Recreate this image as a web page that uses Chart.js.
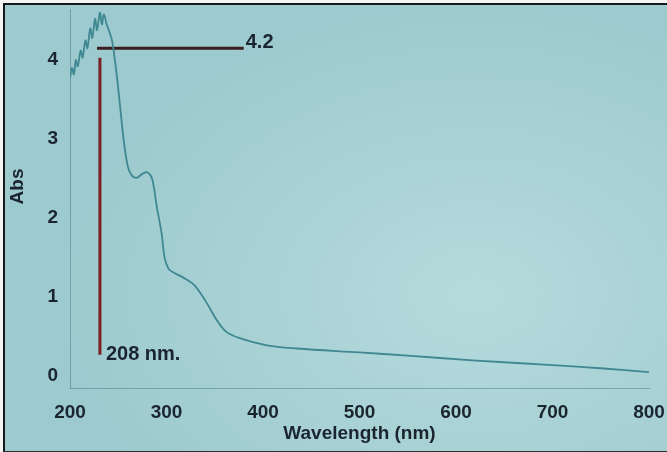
<!DOCTYPE html>
<html>
<head>
<meta charset="utf-8">
<script src="https://cdn.jsdelivr.net/npm/chart.js@4"></script>
<style>
  html, body { margin: 0; padding: 0; background: #f4f4f4; }
  #wrap { position: relative; width: 667px; height: 452px; overflow: hidden; }
  #frame { position: absolute; left: 3px; top: 3px; width: 664px; height: 446px;
    border-left: 2px solid #15191b; border-top: 2px solid #15191b; border-bottom: 1px solid #2a3133;
    background: radial-gradient(ellipse 420px 300px at 470px 290px, #b6dbdd 0%, #a9d2d5 50%, #9dcace 100%); }
  #c { position: absolute; left: 0; top: 0; }
</style>
</head>
<body>
<div id="wrap">
  <div id="frame"></div>
  <canvas id="c" width="667" height="452"></canvas>
</div>
<script>
// Spectrum
const wavelengths = [200,202,204,206,208,211,213,216,218,221,223,226,228,231,233,235,238,241,244,249,252,256,260,264,269,275,280,285,290,295,298,302,306,317,329,341,352,362,376,404,435,500,550,617,700,750,800];
const absorbance  = [3.77,3.9,3.82,4.0,3.92,4.12,4.03,4.25,4.15,4.4,4.28,4.52,4.38,4.6,4.45,4.58,4.45,4.35,4.22,3.75,3.4,2.95,2.65,2.54,2.51,2.56,2.58,2.5,2.14,1.8,1.5,1.36,1.32,1.25,1.15,0.94,0.71,0.56,0.48,0.39,0.35,0.30,0.26,0.20,0.14,0.10,0.05];

const xTicks = [200,300,400,500,600,700,800];
const yTicks = [0,1,2,3,4];

// Annotation marks (data coordinates)
const peakLineX = [231, 231];
const peakLineY = [4.03, 0.27];
const levelLineX = [228, 380];
const levelLineY = [4.15, 4.15];
const levelLabel = "4.2";
const peakLabel = "208 nm.";
const yTitle = "Abs";

const toPts = (xs, ys) => xs.map((x, i) => ({x, y: ys[i]}));

const FONT = "'Liberation Sans', Arial, sans-serif";
const TXT = '#1a2530';

const labelPlugin = {
  id: 'labels',
  afterDatasetsDraw(chart) {
    const {ctx, scales: {x, y}} = chart;
    ctx.save();
    ctx.fillStyle = TXT;
    ctx.font = "bold 20px " + FONT;
    ctx.textBaseline = 'middle';
    ctx.textAlign = 'left';
    ctx.fillText(levelLabel, x.getPixelForValue(levelLineX[1]) + 2, y.getPixelForValue(levelLineY[0]) - 6);
    ctx.fillText(peakLabel, x.getPixelForValue(peakLineX[0]) + 6, y.getPixelForValue(peakLineY[1]) + 0);
    // y-axis title, centred where the original puts it
    ctx.font = "bold 19px " + FONT;
    ctx.textAlign = 'center';
    ctx.translate(18, y.getPixelForValue(2.4));
    ctx.rotate(-Math.PI / 2);
    ctx.fillText(yTitle, 0, 0);
    ctx.restore();
  }
};

const noPad = s => { s.paddingTop = 0; s.paddingBottom = 0; s.paddingLeft = 0; s.paddingRight = 0; };

new Chart(document.getElementById('c'), {
  type: 'scatter',
  data: {
    datasets: [
      { data: toPts(wavelengths, absorbance), showLine: true, borderColor: '#3f8892', borderWidth: 1.8,
        pointRadius: 0, tension: 0.35, order: 1 },
      { data: toPts(peakLineX, peakLineY), showLine: true, borderColor: '#7a1f22', borderWidth: 3,
        pointRadius: 0, order: 2 },
      { data: toPts(levelLineX, levelLineY), showLine: true, borderColor: '#3a1d1f', borderWidth: 3,
        pointRadius: 0, order: 2 }
    ]
  },
  options: {
    responsive: false,
    animation: false,
    layout: { padding: { left: 0, right: 18, top: 9, bottom: 0 } },
    plugins: { legend: { display: false }, tooltip: { enabled: false } },
    scales: {
      x: {
        type: 'linear', min: 200, max: 800,
        afterBuildTicks(s) { s.ticks = xTicks.map(v => ({value: v})); },
        afterFit(s) { s.height = 64; noPad(s); },
        grid: { display: false, drawTicks: false },
        border: { display: true, color: 'rgba(60,110,120,0.45)', dash: [2, 2], width: 1 },
        ticks: { padding: 13, color: TXT, font: { family: FONT, size: 19, weight: 'bold' }, maxRotation: 0 },
        title: { display: true, text: 'Wavelength (nm)', color: TXT, padding: { top: 0, bottom: 7 },
          font: { family: FONT, size: 19, weight: 'bold' } }
      },
      y: {
        type: 'linear', min: -0.15, max: 4.646,
        afterBuildTicks(s) { s.ticks = yTicks.map(v => ({value: v})); },
        afterFit(s) { s.width = 70; noPad(s); },
        grid: { display: false, drawTicks: false },
        border: { display: true, color: 'rgba(60,110,120,0.45)', dash: [2, 2], width: 1 },
        ticks: { padding: 12, color: TXT, font: { family: FONT, size: 19, weight: 'bold' } },
        title: { display: false }
      }
    }
  },
  plugins: [labelPlugin]
});
</script>
</body>
</html>
